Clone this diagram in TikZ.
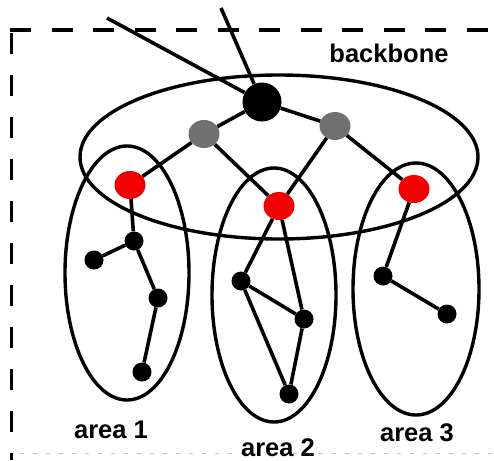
\documentclass[tikz,border=0pt]{standalone}
\usepackage{fontspec}
\setmainfont{Liberation Sans}
\usetikzlibrary{shapes.geometric}
\definecolor{nodegray}{RGB}{112,112,112}
\definecolor{nodered}{RGB}{240,0,0}
\begin{document}
\begin{tikzpicture}[x=1pt,y=-1pt,
  edge/.style={line width=3.6pt},
  region/.style={line width=3.4pt},
  bignode/.style={circle,fill=black,inner sep=0pt,minimum size=39pt},
  graynode/.style={ellipse,fill=nodegray,inner sep=0pt,minimum width=31pt,minimum height=28pt},
  rednode/.style={ellipse,fill=nodered,inner sep=0pt,minimum width=31pt,minimum height=28pt},
  smallnode/.style={circle,fill=black,inner sep=0pt,minimum size=19pt},
  lbl/.style={font=\bfseries\fontsize{25.5}{30}\selectfont,inner sep=0pt}
]
\useasboundingbox (0,0) rectangle (494,460);
% dashed frame
\draw[line width=4.5pt,dash pattern=on 21pt off 20.5pt] (10,30) -- (494,30);
\draw[line width=2.5pt,dash pattern=on 21pt off 21pt] (11.5,33) -- (11.5,460);
\draw[line width=1pt,gray!45,dash pattern=on 4pt off 9pt] (20,453) -- (494,453);
% regions
\draw[region] (279,157) ellipse [x radius=199, y radius=82];
\draw[region] (127,273) ellipse [x radius=62, y radius=127];
\draw[region] (274,295) ellipse [x radius=62, y radius=127];
\draw[region] (416,289) ellipse [x radius=63, y radius=126];
% nodes
\node[bignode] (root) at (262,102) {};
\node[graynode] (gl) at (204,134) {};
\node[graynode] (gr) at (335,126) {};
\node[rednode] (r1) at (130,185) {};
\node[rednode] (r2) at (279,206) {};
\node[rednode] (r3) at (414,189) {};
\node[smallnode] (a1) at (134,241) {};
\node[smallnode] (a2) at (94,260) {};
\node[smallnode] (a3) at (158,298) {};
\node[smallnode] (a4) at (142,372) {};
\node[smallnode] (b1) at (241,281) {};
\node[smallnode] (b2) at (304,319) {};
\node[smallnode] (b3) at (289,394) {};
\node[smallnode] (c1) at (383,276) {};
\node[smallnode] (c2) at (447,314) {};
\coordinate (in1) at (107,18);
\coordinate (in2) at (221,8);
% edges
\draw[edge] (in1) -- (root);
\draw[edge] (in2) -- (root);
\draw[edge] (root) -- (gl);
\draw[edge] (root) -- (gr);
\draw[edge] (gl) -- (r1);
\draw[edge] (gl) -- (r2);
\draw[edge] (gr) -- (r2);
\draw[edge] (gr) -- (r3);
\draw[edge] (r1) -- (a1);
\draw[edge] (a1) -- (a2);
\draw[edge] (a1) -- (a3);
\draw[edge] (a3) -- (a4);
\draw[edge] (r2) -- (b1);
\draw[edge] (r2) -- (b2);
\draw[edge] (b1) -- (b2);
\draw[edge] (b1) -- (b3);
\draw[edge] (b2) -- (b3);
\draw[edge] (r3) -- (c1);
\draw[edge] (c1) -- (c2);
% labels
\node[lbl,anchor=base] (tbb) at (389,62) {backbone};
\node[lbl,anchor=base] (t1) at (111,438) {area 1};
\node[lbl,anchor=base] (t2) at (278,456) {area 2};
\node[lbl,anchor=base] (t3) at (417,441) {area 3};
\end{tikzpicture}
\end{document}
